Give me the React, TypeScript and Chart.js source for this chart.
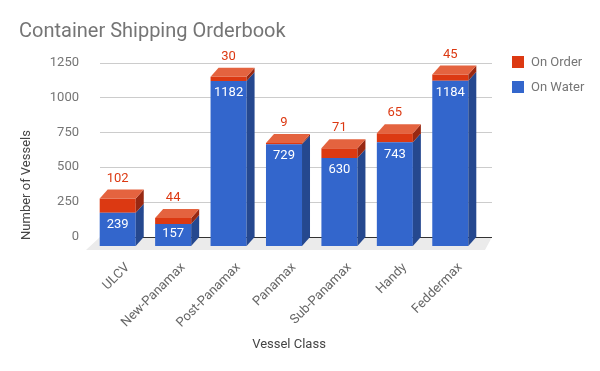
import React, { useEffect, useRef } from 'react';
import { Chart, registerables } from 'chart.js';

Chart.register(...registerables);

const categories = ['ULCV', 'New-Panamax', 'Post-Panamax', 'Panamax', 'Sub-Panamax', 'Handy', 'Feddermax'];
const onWater = [239, 157, 1182, 729, 630, 743, 1184];
const onOrder = [102, 44, 30, 9, 71, 65, 45];
const yTicks = [0, 250, 500, 750, 1000, 1250];

const TITLE = 'Container Shipping Orderbook';
const X_TITLE = 'Vessel Class';
const Y_TITLE = 'Number of Vessels';
const LEGEND = [
  { label: 'On Order', color: '#DC3912' },
  { label: 'On Water', color: '#3366CC' },
];

const DX = 8;
const DY = 9;
const FONT = 'Roboto, "Noto Sans", Arial, sans-serif';

const BLUE = '#3366CC';
const BLUE_SIDE = '#25488F';
const RED = '#DC3912';
const RED_SIDE = '#982812';
const RED_TOP = '#E4633F';

const threeD = {
  id: 'threeD',
  beforeDatasetsDraw(chart: any) {
    const { ctx, chartArea, scales } = chart;
    const y = scales.y;
    const { left, right } = chartArea;
    const y0 = y.getPixelForValue(0);
    ctx.save();
    ctx.fillStyle = '#EBEBEB';
    ctx.beginPath();
    ctx.moveTo(left + 10, y0 - DY);
    ctx.lineTo(right + 14, y0 - DY);
    ctx.lineTo(right + 7, y0 + 4);
    ctx.lineTo(left - 4, y0 + 4);
    ctx.closePath();
    ctx.fill();
    yTicks.forEach((v) => {
      const py = Math.round(y.getPixelForValue(v) - DY) + 0.5;
      ctx.strokeStyle = v === 0 ? '#333333' : '#CCCCCC';
      ctx.lineWidth = 1;
      ctx.beginPath();
      ctx.moveTo(left + 10, py);
      ctx.lineTo(right + 14, py);
      ctx.stroke();
    });
    ctx.restore();
  },
  afterDatasetsDraw(chart: any) {
    const { ctx } = chart;
    const mWater = chart.getDatasetMeta(0);
    const mOrder = chart.getDatasetMeta(1);
    ctx.save();
    categories.forEach((_, i) => {
      const w = mWater.data[i].getProps(['x', 'y', 'base', 'width'], true);
      const o = mOrder.data[i].getProps(['x', 'y', 'base', 'width'], true);
      const segs = [
        { p: w, side: BLUE_SIDE },
        { p: o, side: RED_SIDE },
      ];
      segs.forEach(({ p, side }) => {
        const x2 = p.x + p.width / 2;
        const top = Math.min(p.y, p.base);
        const bot = Math.max(p.y, p.base);
        ctx.fillStyle = side;
        ctx.beginPath();
        ctx.moveTo(x2, top);
        ctx.lineTo(x2 + DX, top - DY);
        ctx.lineTo(x2 + DX, bot - DY);
        ctx.lineTo(x2, bot);
        ctx.closePath();
        ctx.fill();
      });
      const x1 = o.x - o.width / 2;
      const x2 = o.x + o.width / 2;
      const t = Math.min(o.y, o.base);
      ctx.fillStyle = RED_TOP;
      ctx.beginPath();
      ctx.moveTo(x1, t);
      ctx.lineTo(x1 + DX, t - DY);
      ctx.lineTo(x2 + DX, t - DY);
      ctx.lineTo(x2, t);
      ctx.closePath();
      ctx.fill();

      ctx.font = `13px ${FONT}`;
      ctx.textAlign = 'center';
      ctx.textBaseline = 'middle';
      const bh = w.base - w.y;
      ctx.fillStyle = '#FFFFFF';
      ctx.fillText(String(onWater[i]), w.x, w.y + Math.min(12, bh / 2 - 1.5));
      ctx.fillStyle = RED;
      ctx.fillText(String(onOrder[i]), o.x, t - 20);
    });
    ctx.restore();
  },
  afterDraw(chart: any) {
    const { ctx } = chart;
    ctx.save();
    ctx.font = `20px ${FONT}`;
    ctx.fillStyle = '#757575';
    ctx.textAlign = 'left';
    ctx.textBaseline = 'alphabetic';
    ctx.fillText(TITLE, 19, 37);
    ctx.font = `13px ${FONT}`;
    ctx.fillStyle = '#444444';
    ctx.textAlign = 'center';
    ctx.textBaseline = 'middle';
    ctx.fillText(X_TITLE, 289, 345);
    ctx.save();
    ctx.translate(27, 185);
    ctx.rotate(-Math.PI / 2);
    ctx.fillText(Y_TITLE, 0, 0);
    ctx.restore();
    LEGEND.forEach((l, i) => {
      const yy = 62 + i * 25;
      ctx.fillStyle = l.color;
      ctx.fillRect(512, yy - 6, 12, 12);
      ctx.fillStyle = '#757575';
      ctx.textAlign = 'left';
      ctx.textBaseline = 'middle';
      ctx.font = `13px ${FONT}`;
      ctx.fillText(l.label, 531, yy + 0.5);
    });
    ctx.restore();
  },
};

export default function App() {
  const ref = useRef<HTMLCanvasElement | null>(null);
  useEffect(() => {
    if (!ref.current) return;
    const chart = new Chart(ref.current, {
      type: 'bar',
      data: {
        labels: categories,
        datasets: [
          { label: 'On Water', data: onWater, backgroundColor: BLUE, borderWidth: 0 },
          { label: 'On Order', data: onOrder, backgroundColor: RED, borderWidth: 0 },
        ],
      },
      options: {
        responsive: false,
        animation: false,
        devicePixelRatio: 1,
        layout: { padding: { left: 0, top: 71.5, right: 122, bottom: 0 } },
        plugins: { legend: { display: false }, tooltip: { enabled: false }, title: { display: false } },
        datasets: { bar: { barPercentage: 0.65, categoryPercentage: 1 } },
        scales: {
          x: {
            stacked: true,
            grid: { display: false, drawTicks: false },
            border: { display: false },
            ticks: {
              minRotation: 45,
              maxRotation: 45,
              autoSkip: false,
              padding: 14,
              labelOffset: 10,
              color: '#666666',
              font: { family: FONT, size: 13 },
            },
            afterFit(scale: any) {
              scale.height = 125;
            },
          },
          y: {
            stacked: true,
            min: 0,
            max: 1250,
            grid: { display: false, drawTicks: false },
            border: { display: false },
            afterBuildTicks(scale: any) {
              scale.ticks = yTicks.map((v) => ({ value: v }));
            },
            ticks: {
              padding: 11,
              labelOffset: -9,
              color: '#757575',
              font: { family: FONT, size: 13 },
              callback: (v: any) => String(v),
            },
            afterFit(scale: any) {
              scale.width = 90;
            },
          },
        },
      },
      plugins: [threeD],
    });
    return () => chart.destroy();
  }, []);
  return (
    <div style={{ position: 'fixed', left: 0, top: 0, width: 600, height: 371, background: '#fff' }}>
      <canvas ref={ref} width={600} height={371} style={{ display: 'block', width: 600, height: 371 }} />
    </div>
  );
}
